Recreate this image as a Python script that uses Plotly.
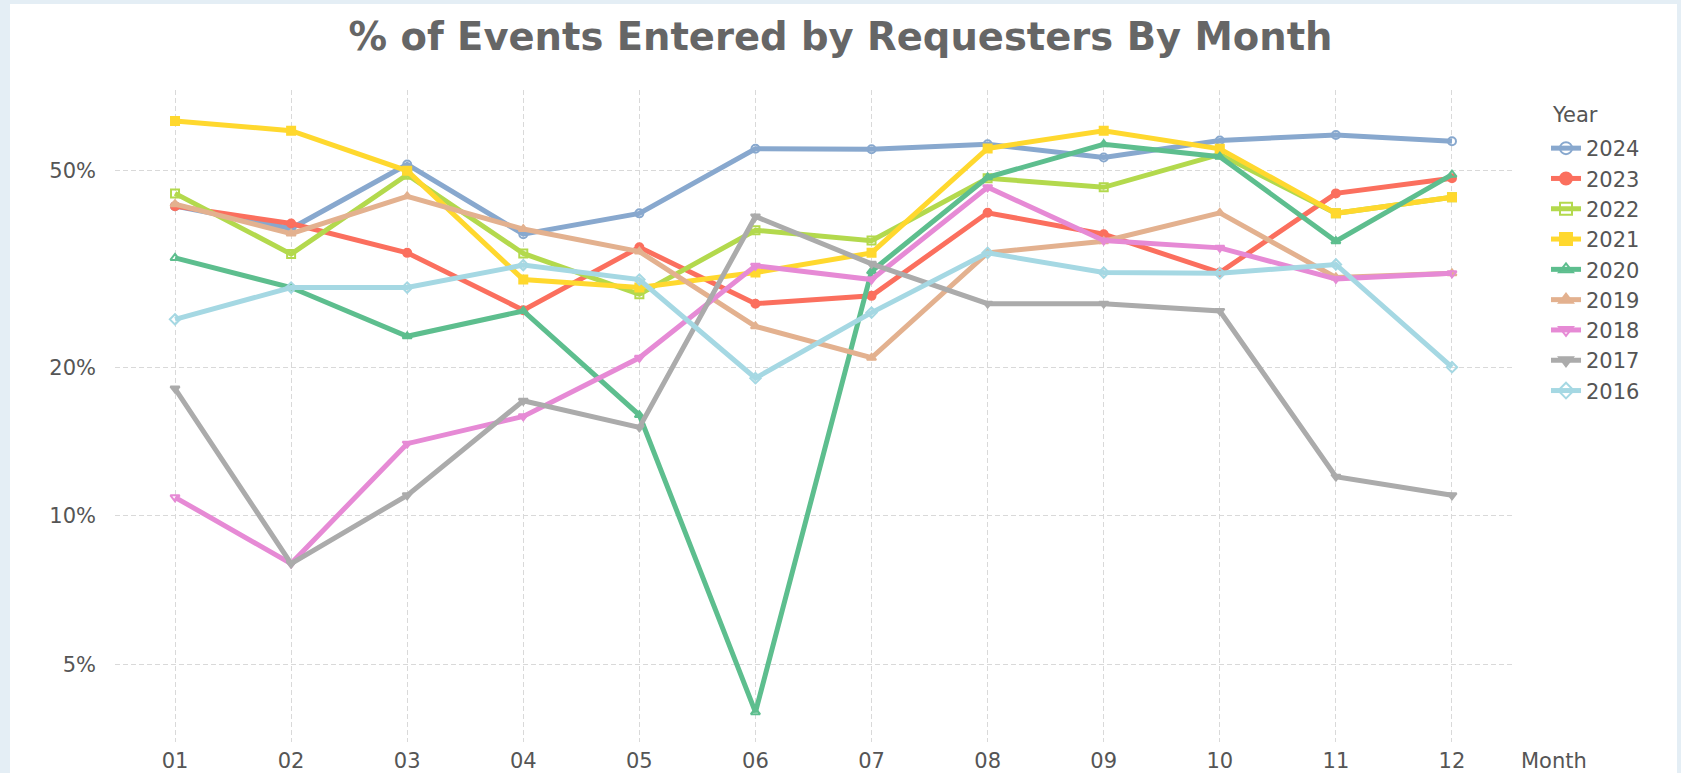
import plotly.graph_objects as go

# Share of events entered by requesters, per month, one line per year (percent)
months = ["01", "02", "03", "04", "05", "06", "07", "08", "09", "10", "11", "12"]

pct_2024 = [42.4, 38.2, 51.5, 37.2, 41.0, 55.4, 55.3, 56.6, 53.2, 57.6, 59.1, 57.4]
pct_2023 = [42.4, 39.1, 34.1, 26.1, 35.0, 26.9, 27.9, 41.1, 37.2, 31.1, 45.0, 48.3]
pct_2022 = [45.0, 33.9, 49.1, 34.0, 28.1, 37.9, 36.1, 48.3, 46.3, 54.0, 41.0, 44.2]
pct_2021 = [63.1, 60.3, 50.0, 30.1, 29.0, 31.1, 34.1, 55.5, 60.3, 55.4, 41.0, 44.2]
pct_2020 = [33.3, 29.0, 23.1, 26.0, 16.0, 4.0, 31.3, 48.5, 56.6, 53.4, 36.0, 49.1]
pct_2019 = [42.8, 37.3, 44.4, 38.1, 34.3, 24.2, 20.9, 34.1, 36.0, 41.1, 30.4, 31.0]
pct_2018 = [10.9, 8.0, 14.0, 15.9, 20.9, 32.1, 30.1, 46.3, 36.1, 34.9, 30.2, 31.0]
pct_2017 = [18.1, 8.0, 11.0, 17.1, 15.1, 40.4, 32.4, 26.9, 26.9, 26.0, 12.0, 11.0]
pct_2016 = [25.0, 29.0, 29.0, 32.2, 30.1, 19.0, 25.8, 34.1, 31.1, 31.0, 32.3, 20.0]

years = ["2024", "2023", "2022", "2021", "2020", "2019", "2018", "2017", "2016"]
series = [pct_2024, pct_2023, pct_2022, pct_2021, pct_2020, pct_2019, pct_2018, pct_2017, pct_2016]
colors = ["#88A8CE", "#FB6F5E", "#B3D94D", "#FFD82E", "#5DBE8E",
          "#E3B18F", "#E68AD5", "#ABABAB", "#A5D8E3"]
symbols = ["circle-open", "circle", "square-open", "square", "triangle-up-open",
           "triangle-up", "triangle-down-open", "triangle-down", "diamond-open"]

y_ticks = [5, 10, 20, 50]
y_tick_text = ["5%", "10%", "20%", "50%"]

FONT = "DejaVu Sans"
TEXT = "#555555"

fig = go.Figure()
for name, vals, col, sym in zip(years, series, colors, symbols):
    fig.add_trace(go.Scatter(
        x=months, y=vals, name=name, mode="lines+markers",
        line=dict(color=col, width=5),
        marker=dict(symbol=sym, size=8, color=col, line=dict(color=col, width=2)),
    ))

W, H = 1681, 773
L, R, T, B = 115, 169, 90, 31
pw, ph = W - L - R, H - T - B

def px_x(px):
    return (px - L) / pw

def px_y(py):
    return (H - B - py) / ph

# white card over the light frame
fig.add_shape(type="rect", xref="paper", yref="paper",
              x0=px_x(10), x1=px_x(1677), y0=px_y(800), y1=px_y(4),
              fillcolor="white", line=dict(width=0), layer="below")

# axis caption at the right end of the month axis
fig.add_annotation(text="Month", xref="paper", yref="paper",
                   x=px_x(1519), y=px_y(761), xanchor="left", yanchor="middle",
                   showarrow=False, font=dict(family=FONT, size=21, color=TEXT))

# legend heading
fig.add_annotation(text="Year", xref="paper", yref="paper",
                   x=px_x(1550), y=px_y(115), xanchor="left", yanchor="middle",
                   showarrow=False, font=dict(family=FONT, size=21, color=TEXT))

fig.update_layout(
    width=W, height=H,
    margin=dict(l=L, r=R, t=T, b=B, autoexpand=False),
    paper_bgcolor="#E4EEF5",
    plot_bgcolor="rgba(0,0,0,0)",
    title=dict(text="% of Events Entered by Requesters By Month",
               x=0.5, xref="container", xanchor="center",
               y=1 - 37 / H, yref="container", yanchor="middle",
               font=dict(family=FONT, size=38.5, color="#666666", weight="bold")),
    showlegend=True,
    legend=dict(
        font=dict(family=FONT, size=21, color=TEXT),
        x=px_x(1546), xanchor="left", y=px_y(128), yanchor="top",
        bgcolor="rgba(0,0,0,0)", itemsizing="constant", itemwidth=30,
        tracegroupgap=0,
    ),
    xaxis=dict(
        type="category", range=[-0.517, 11.517],
        showgrid=True, gridcolor="#D9D9D9", gridwidth=1, griddash="5px,3px",
        showline=False, zeroline=False, ticks="",
        tickfont=dict(family=FONT, size=21, color=TEXT),
        ticklabelstandoff=4, automargin=False,
    ),
    yaxis=dict(
        type="log", range=[0.5416, 1.8627],
        tickvals=y_ticks, ticktext=y_tick_text,
        showgrid=True, gridcolor="#D9D9D9", gridwidth=1, griddash="5px,3px",
        showline=False, zeroline=False, ticks="",
        tickfont=dict(family=FONT, size=21, color=TEXT),
        ticklabelstandoff=18, automargin=False,
    ),
)

fig.write_html("out.html")
